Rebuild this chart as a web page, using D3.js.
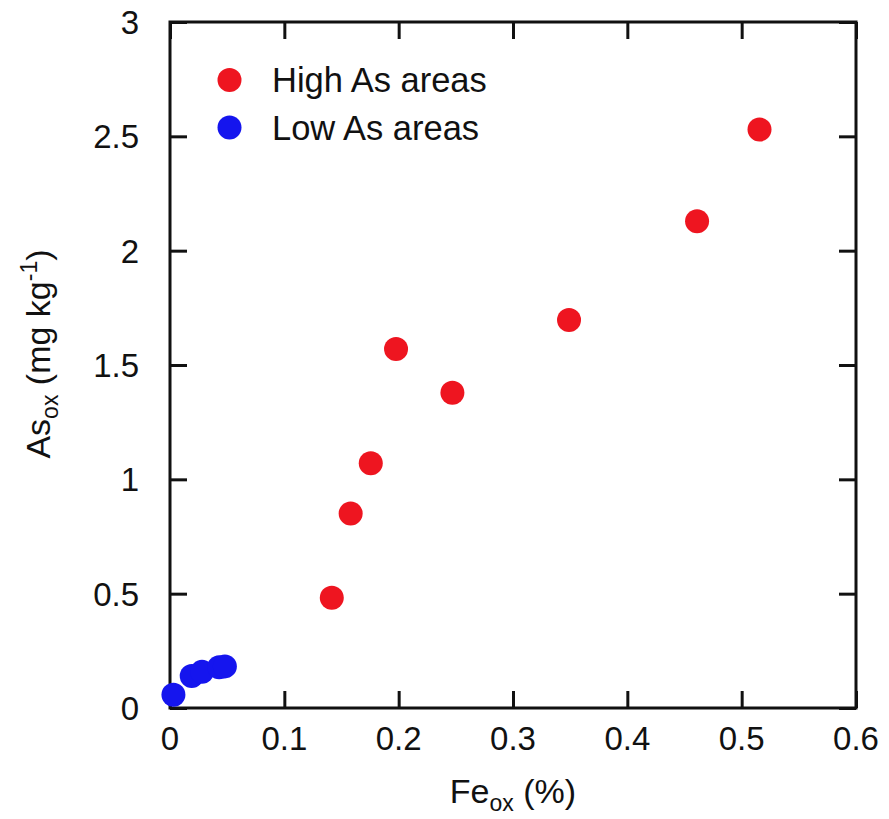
<!DOCTYPE html>
<html><head><meta charset="utf-8">
<script src="https://cdn.jsdelivr.net/npm/d3@7"></script>
<style>body{margin:0;background:#fff}svg{display:block}text{font-family:"Liberation Sans",Arial,sans-serif;fill:#111}</style>
</head><body><svg id="c" width="889" height="819"></svg>
<script>
const highFe = [0.1415, 0.158, 0.1756, 0.1977, 0.247, 0.349, 0.461, 0.5156];
const highAs = [0.482, 0.851, 1.070, 1.570, 1.379, 1.697, 2.129, 2.530];
const lowFe = [0.003, 0.019, 0.028, 0.043, 0.048];
const lowAs = [0.058, 0.140, 0.158, 0.178, 0.182];
const xTicks = [0, 0.1, 0.2, 0.3, 0.4, 0.5, 0.6];
const yTicks = [0, 0.5, 1, 1.5, 2, 2.5, 3];
const seriesNames = ["High As areas", "Low As areas"];
const colors = ["#ee1520", "#1515ee"];

const svg = d3.select("#c");
const L = 170, R = 856, T = 22, B = 708;
const x = d3.scaleLinear().domain([0, 0.6]).range([L, R]);
const y = d3.scaleLinear().domain([0, 3]).range([B, T]);
const fmt = d => d3.format("")(d);

// ticks (inward, all four sides)
const tk = 17;
const axB = d3.axisBottom(x).tickValues(xTicks).tickSize(-tk).tickFormat("");
const axT = d3.axisTop(x).tickValues(xTicks).tickSize(-tk).tickFormat("");
const axL = d3.axisLeft(y).tickValues(yTicks).tickSize(-tk).tickFormat("");
const axR = d3.axisRight(y).tickValues(yTicks).tickSize(-tk).tickFormat("");
[[axB, `translate(0,${B})`], [axT, `translate(0,${T})`], [axL, `translate(${L},0)`], [axR, `translate(${R},0)`]].forEach(([a, t]) => {
  const g = svg.append("g").attr("transform", t).call(a);
  g.select(".domain").remove();
  g.selectAll("line").attr("stroke", "#111").attr("stroke-width", 3);
});
svg.append("rect").attr("x", L).attr("y", T).attr("width", R - L).attr("height", B - T)
  .attr("fill", "none").attr("stroke", "#111").attr("stroke-width", 3);

// tick labels
svg.append("g").selectAll("text").data(xTicks).join("text")
  .attr("x", d => x(d)).attr("y", 750).attr("text-anchor", "middle")
  .attr("font-size", 33).text(fmt);
svg.append("g").selectAll("text").data(yTicks).join("text")
  .attr("x", 139).attr("y", d => y(d) + 12).attr("text-anchor", "end")
  .attr("font-size", 33).text(fmt);

// axis titles
const xt = svg.append("text").attr("x", 513).attr("y", 803).attr("text-anchor", "middle").attr("font-size", 34);
xt.append("tspan").text("Fe");
xt.append("tspan").attr("font-size", 23).attr("dy", 8).text("ox");
xt.append("tspan").attr("dy", -8).text(" (%)");

const yt = svg.append("text").attr("transform", "translate(50,354) rotate(-90)").attr("text-anchor", "middle").attr("font-size", 34);
yt.append("tspan").text("As");
yt.append("tspan").attr("font-size", 23).attr("dy", 8).text("ox");
yt.append("tspan").attr("dy", -8).text(" (mg kg");
yt.append("tspan").attr("font-size", 23).attr("dy", -13).text("-1");
yt.append("tspan").attr("dy", 13).text(")");

// points
const high = highFe.map((v, i) => ({ x: v, y: highAs[i] }));
const low = lowFe.map((v, i) => ({ x: v, y: lowAs[i] }));
svg.append("g").selectAll("circle").data(low).join("circle")
  .attr("cx", d => x(d.x)).attr("cy", d => y(d.y)).attr("r", 12).attr("fill", colors[1]);
svg.append("g").selectAll("circle").data(high).join("circle")
  .attr("cx", d => x(d.x)).attr("cy", d => y(d.y)).attr("r", 12).attr("fill", colors[0]);

// legend
const lg = svg.append("g");
seriesNames.forEach((n, i) => {
  lg.append("circle").attr("cx", 229.5).attr("cy", 80 + i * 47.5).attr("r", 12).attr("fill", colors[i]);
  lg.append("text").attr("x", 272).attr("y", 92 + i * 47.5).attr("font-size", 34.5).text(n);
});
</script></body></html>
